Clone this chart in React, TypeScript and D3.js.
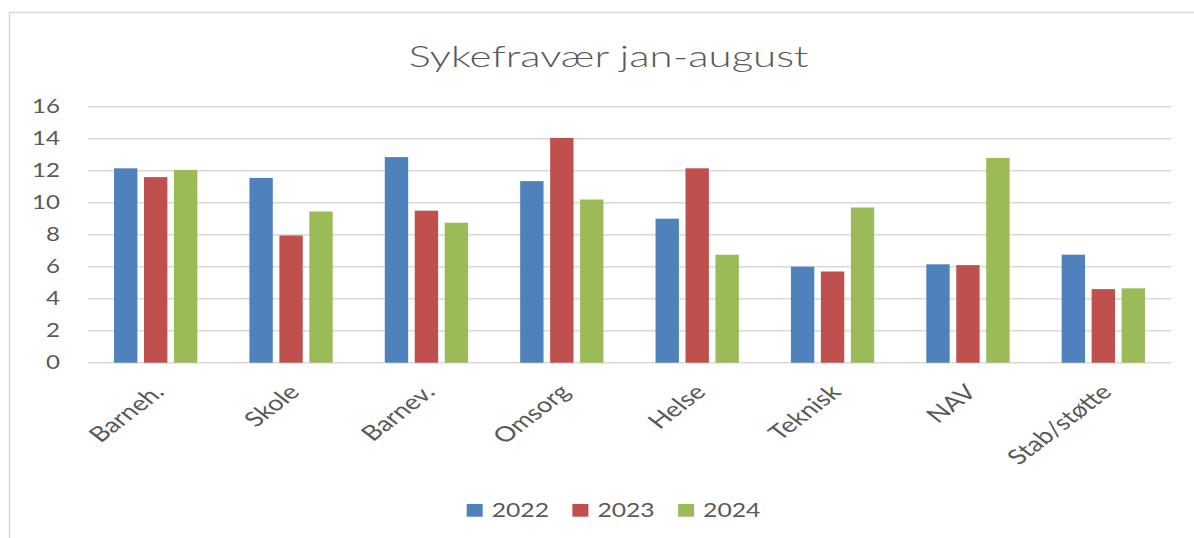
import React, { useEffect } from "react";
import * as d3 from "d3";

// chart data
const categories = ["Barneh.", "Skole", "Barnev.", "Omsorg", "Helse", "Teknisk", "NAV", "Stab/støtte"];
const years = ["2022", "2023", "2024"];
const values2022 = [12.15, 11.55, 12.85, 11.35, 9.0, 6.0, 6.15, 6.75];
const values2023 = [11.6, 7.95, 9.5, 14.05, 12.15, 5.7, 6.1, 4.6];
const values2024 = [12.05, 9.45, 8.75, 10.2, 6.75, 9.7, 12.8, 4.65];
const yTicks = [0, 2, 4, 6, 8, 10, 12, 14, 16];
const title = "Sykefravær jan-august";

const colors = ["#4F81BD", "#C0504D", "#9BBB59"];
const textColor = "#595959";
const gridColor = "#D9D9D9";
const font = "Lato, 'Open Sans', sans-serif";
const SX = 1.3; // the picture is stretched sideways, so is the text

const width = 1194;
const height = 538;
const plot = { left: 88, right: 1171, top: 106.7, bottom: 362.7 };

export default function App() {
  useEffect(() => {
    document.body.style.margin = "0";
  }, []);

  const series = [values2022, values2023, values2024];

  const y = d3.scaleLinear().domain([0, 16]).range([plot.bottom, plot.top]);
  const x0 = d3.scaleBand().domain(categories).range([plot.left, plot.right]);
  const groupW = 83.3;
  const x1 = d3.scaleBand().domain(years).range([0, groupW]).paddingInner(0.22);
  const groupX = (c: string) => (x0(c) as number) + (x0.bandwidth() - groupW) / 2;

  return (
    <svg width={width} height={height} style={{ display: "block", background: "#fff" }}>
      {/* outer frame */}
      <rect x={9.5} y={12.5} width={1300} height={700} fill="none" stroke="#d9d9d9" strokeWidth={1.5} />

      <text
        transform={`translate(608.5,66.7) scale(1.45,1)`}
        textAnchor="middle"
        fontFamily={font}
        fontWeight={300}
        fontSize={29}
        fill={textColor}
      >
        {title}
      </text>

      {/* gridlines + y ticks */}
      {yTicks.map((t) => (
        <g key={t}>
          <line x1={plot.left} x2={plot.right} y1={y(t)} y2={y(t)} stroke={gridColor} strokeWidth={1.5} />
          <text
            transform={`translate(60,${y(t)}) scale(${SX},1)`}
            textAnchor="end"
            dy="0.36em"
            fontFamily={font}
            fontSize={18.5}
            fill={textColor}
          >
            {t}
          </text>
        </g>
      ))}

      {/* bars */}
      {series.map((vals, si) =>
        categories.map((c, ci) => (
          <rect
            key={years[si] + c}
            x={groupX(c) + (x1(years[si]) as number)}
            y={y(vals[ci])}
            width={x1.bandwidth()}
            height={y(0) - y(vals[ci])}
            fill={colors[si]}
          />
        ))
      )}

      {/* x labels */}
      {categories.map((c) => (
        <text
          key={c}
          transform={`translate(${(x0(c) as number) + x0.bandwidth() / 2 + 3},388) scale(${SX},1) rotate(-45)`}
          textAnchor="end"
          dy="0.36em"
          fontFamily={font}
          fontSize={21}
          fill={textColor}
        >
          {c}
        </text>
      ))}

      {/* legend */}
      {years.map((yr, i) => (
        <g key={yr} transform={`translate(${466.7 + i * 105.7},504)`}>
          <rect width={16} height={12.7} fill={colors[i]} />
          <text
            transform={`translate(25,13) scale(${SX},1)`}
            fontFamily={font}
            fontSize={19}
            fill={textColor}
          >
            {yr}
          </text>
        </g>
      ))}
    </svg>
  );
}
